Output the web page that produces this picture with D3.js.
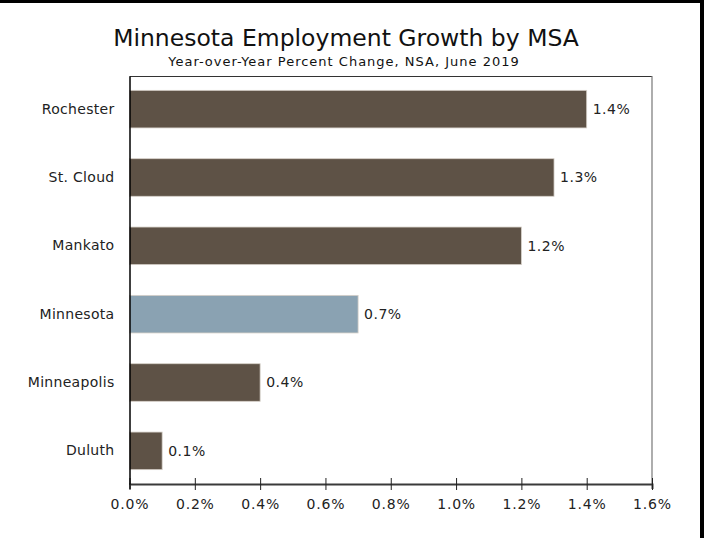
<!DOCTYPE html>
<html>
<head>
<meta charset="utf-8">
<script src="https://cdn.jsdelivr.net/npm/d3@7"></script>
<style>
  body { margin: 0; background: #fff; }
  text { font-family: "DejaVu Sans", Verdana, sans-serif; fill: #222; }
</style>
</head>
<body>
<div id="chart"></div>
<script>
// data
var areas = ["Rochester", "St. Cloud", "Mankato", "Minnesota", "Minneapolis", "Duluth"];
var growth = [1.4, 1.3, 1.2, 0.7, 0.4, 0.1];
var xTicks = [0, 0.2, 0.4, 0.6, 0.8, 1.0, 1.2, 1.4, 1.6];

var W = 712, H = 538;
var margin = {top: 76, left: 129.5, right: 60, bottom: 54};
var width = W - margin.left - margin.right,
    height = H - margin.top - margin.bottom;

var svg = d3.select("#chart")
  .append("svg")
    .attr("width", W)
    .attr("height", H);

// outer black frame (top and right only)
svg.append("rect").attr("x", 0).attr("y", 0).attr("width", 704).attr("height", 3).style("fill", "#000");
svg.append("rect").attr("x", 700).attr("y", 0).attr("width", 4).attr("height", H).style("fill", "#000");

// titles
svg.append("text")
  .attr("x", 346).attr("y", 46)
  .attr("text-anchor", "middle")
  .style("font-size", "23.5px")
  .style("fill", "#111")
  .text("Minnesota Employment Growth by MSA");
svg.append("text")
  .attr("x", 344).attr("y", 66)
  .attr("text-anchor", "middle")
  .style("font-size", "13px")
  .style("letter-spacing", "1px")
  .style("fill", "#111")
  .text("Year-over-Year Percent Change, NSA, June 2019");

var g = svg.append("g")
  .attr("transform", "translate(" + margin.left + "," + margin.top + ")");

var x = d3.scaleLinear()
  .domain([0, 1.6])
  .range([0, width]);

var y = d3.scaleBand()
  .domain(areas)
  .range([0, height])
  .paddingInner(0.45)
  .paddingOuter(0.21);

// frame top and right
g.append("line").attr("x1", 0).attr("x2", width).attr("y1", 0.5).attr("y2", 0.5)
  .style("stroke", "#333").style("stroke-width", 1);
g.append("line").attr("x1", width).attr("x2", width).attr("y1", 0).attr("y2", height)
  .style("stroke", "#777").style("stroke-width", 1.2);

// bars
g.selectAll(".bar")
  .data(areas)
  .enter()
  .append("rect")
    .attr("x", 0)
    .attr("y", function(d) { return y(d); })
    .attr("width", function(d, i) { return x(growth[i]); })
    .attr("height", y.bandwidth())
    .style("fill", function(d) { return d === "Minnesota" ? "#8aa2b2" : "#5e5246"; })
    .style("stroke", "#d6d0c9")
    .style("stroke-width", 0.8);

// value labels
g.selectAll(".val")
  .data(areas)
  .enter()
  .append("text")
    .attr("x", function(d, i) { return x(growth[i]) + 6; })
    .attr("y", function(d) { return y(d) + y.bandwidth() / 2; })
    .attr("dy", "0.35em")
    .style("font-size", "14px")
    .style("letter-spacing", "0.5px")
    .text(function(d, i) { return growth[i].toFixed(1) + "%"; });

// x axis
var xAxis = g.append("g")
  .attr("transform", "translate(0," + height + ")")
  .call(d3.axisBottom(x).tickValues(xTicks).tickSize(5).tickPadding(10)
    .tickFormat(function(d) { return d.toFixed(1) + "%"; }));
xAxis.select(".domain").style("stroke", "#3a3a3a").style("stroke-width", 2);
xAxis.selectAll(".tick line").attr("y1", -6).attr("y2", 6).style("stroke", "#222");
xAxis.selectAll(".tick text").style("font-size", "14px").style("fill", "#222")
  .style("letter-spacing", "0.8px")
  .style("font-family", "DejaVu Sans, Verdana, sans-serif");

// y axis
var yAxis = g.append("g")
  .call(d3.axisLeft(y).tickSize(0).tickPadding(15));
yAxis.select(".domain").style("stroke", "#000").style("stroke-width", 1.5);
yAxis.selectAll(".tick text").style("font-size", "14px").style("fill", "#222")
  .style("letter-spacing", "0.3px")
  .style("font-family", "DejaVu Sans, Verdana, sans-serif");
</script>
</body>
</html>
